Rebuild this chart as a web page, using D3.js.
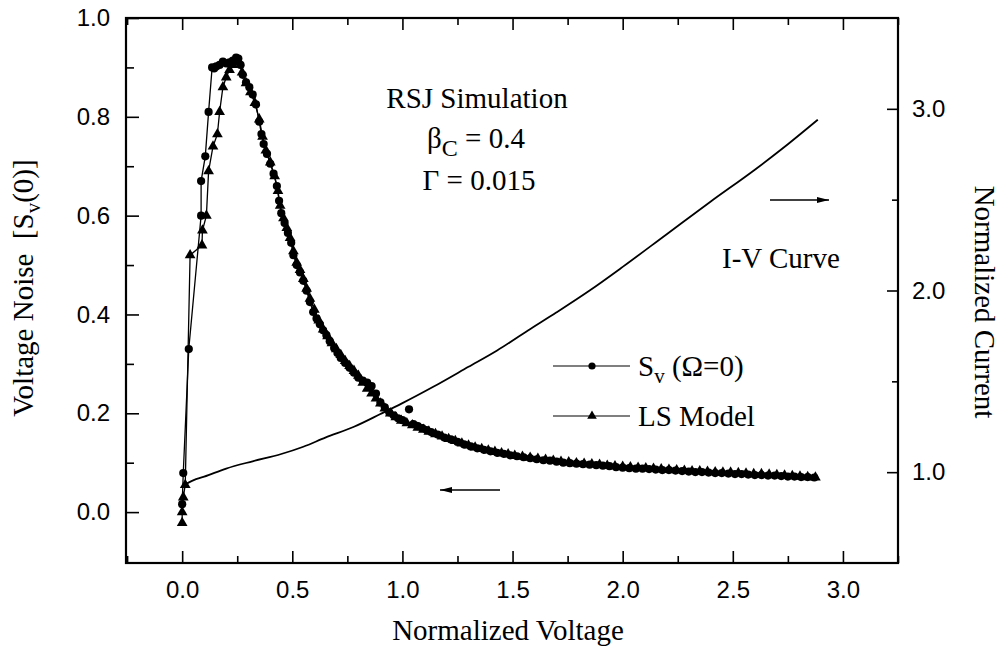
<!DOCTYPE html>
<html lang="en">
    <head>
        <meta charset="utf-8">
        <title>RSJ Voltage Noise</title>
        <script type="text/javascript" src="https://cdn.jsdelivr.net/npm/d3@7"></script>
        <style type="text/css">
            body { margin: 0; background: #fff; }
            .tick text { font-family: "Liberation Sans", Arial, sans-serif; font-size: 24px; fill: #000; }
            .tick line { stroke: #000; stroke-width: 1.6; }
            .serif { font-family: "Liberation Serif", "Times New Roman", serif; fill: #000; }
        </style>
    </head>
    <body>
        <script type="text/javascript">

    // S_v(Omega=0) series (circles)
    var svV = [0.000, 0.005, 0.030, 0.086, 0.086, 0.105, 0.120, 0.136, 0.145, 0.155,
               0.170, 0.185, 0.200, 0.215, 0.230, 0.245, 0.255, 0.265, 0.275, 0.290,
               0.305, 0.320, 0.335, 0.350, 0.360, 0.370, 0.385, 0.400, 0.415, 0.430,
               0.440, 0.450, 0.465, 0.480, 0.495, 0.505, 0.520, 0.535, 0.550, 0.565,
               0.580, 0.595, 0.610, 0.625, 0.640, 0.655, 0.670, 0.690, 0.705, 0.720,
               0.740, 0.760, 0.780, 0.800, 0.820, 0.840, 0.860, 0.880, 0.900, 0.920,
               0.940, 0.960, 0.980, 1.000, 1.050, 1.070, 1.090, 1.110, 1.130,
               1.160, 1.190, 1.220, 1.250, 1.280, 1.310, 1.340, 1.370, 1.400, 1.430,
               1.460, 1.490, 1.520, 1.550, 1.580, 1.610, 1.640, 1.670, 1.700, 1.730,
               1.760, 1.790, 1.820, 1.850, 1.880, 1.910, 1.940, 1.970, 2.000, 2.030,
               2.060, 2.090, 2.120, 2.150, 2.180, 2.210, 2.240, 2.270, 2.300, 2.330,
               2.360, 2.390, 2.420, 2.450, 2.480, 2.510, 2.540, 2.570, 2.600, 2.630,
               2.660, 2.690, 2.720, 2.750, 2.780, 2.810, 2.840, 2.870];
    var svS = [0.016, 0.079, 0.330, 0.600, 0.670, 0.720, 0.810, 0.900, 0.898, 0.902,
               0.905, 0.912, 0.908, 0.910, 0.914, 0.920, 0.918, 0.905, 0.885, 0.870,
               0.860, 0.845, 0.825, 0.790, 0.765, 0.745, 0.725, 0.705, 0.685, 0.660,
               0.630, 0.605, 0.585, 0.565, 0.545, 0.520, 0.500, 0.485, 0.468, 0.448,
               0.425, 0.405, 0.392, 0.380, 0.368, 0.358, 0.346, 0.332, 0.322, 0.312,
               0.302, 0.292, 0.282, 0.272, 0.266, 0.262, 0.255, 0.240, 0.222, 0.212,
               0.202, 0.196, 0.190, 0.186, 0.178, 0.174, 0.170, 0.166, 0.162,
               0.157, 0.151, 0.147, 0.142, 0.137, 0.133, 0.129, 0.126, 0.123, 0.120,
               0.118, 0.115, 0.113, 0.111, 0.109, 0.107, 0.105, 0.104, 0.102, 0.100,
               0.099, 0.098, 0.097, 0.096, 0.095, 0.094, 0.093, 0.091, 0.090, 0.089,
               0.088, 0.088, 0.087, 0.086, 0.085, 0.085, 0.084, 0.083, 0.082, 0.081,
               0.081, 0.080, 0.079, 0.079, 0.078, 0.077, 0.077, 0.076, 0.075, 0.075,
               0.074, 0.074, 0.073, 0.072, 0.072, 0.071, 0.071, 0.070];
    // stray S_v point above the curve
    var svOddV = [1.030];
    var svOddS = [0.208];

    // LS Model series (triangles)
    var lsV = [0.000, 0.000, 0.005, 0.014, 0.036, 0.090, 0.092, 0.110, 0.120, 0.140,
               0.160, 0.170, 0.185, 0.200, 0.215, 0.230, 0.245, 0.260, 0.272, 0.290,
               0.310, 0.330, 0.350, 0.365, 0.380, 0.400, 0.420, 0.435, 0.445, 0.460,
               0.475, 0.490, 0.505, 0.520, 0.535, 0.550, 0.565, 0.580, 0.600, 0.620,
               0.640, 0.660, 0.680, 0.700, 0.720, 0.740, 0.760, 0.780, 0.800, 0.820,
               0.840, 0.860, 0.880, 0.900, 0.920, 0.945, 0.970, 0.995, 1.020, 1.045,
               1.070, 1.095, 1.120, 1.150, 1.180, 1.210, 1.240, 1.270, 1.300, 1.330,
               1.360, 1.390, 1.420, 1.450, 1.480, 1.510, 1.545, 1.580, 1.615, 1.650,
               1.685, 1.720, 1.755, 1.790, 1.825, 1.860, 1.895, 1.930, 1.965, 2.000,
               2.035, 2.070, 2.105, 2.140, 2.175, 2.210, 2.245, 2.280, 2.315, 2.350,
               2.385, 2.420, 2.455, 2.490, 2.525, 2.560, 2.595, 2.630, 2.665, 2.700,
               2.735, 2.770, 2.805, 2.840, 2.875];
    var lsS = [-0.022, 0.000, 0.030, 0.055, 0.520, 0.540, 0.570, 0.600, 0.690, 0.740,
               0.765, 0.810, 0.860, 0.880, 0.895, 0.905, 0.912, 0.910, 0.890, 0.868,
               0.850, 0.828, 0.795, 0.760, 0.732, 0.708, 0.680, 0.650, 0.620, 0.595,
               0.575, 0.555, 0.528, 0.505, 0.490, 0.472, 0.452, 0.432, 0.410, 0.388,
               0.370, 0.356, 0.342, 0.330, 0.318, 0.306, 0.296, 0.286, 0.276, 0.262,
               0.250, 0.240, 0.230, 0.220, 0.210, 0.200, 0.192, 0.185, 0.180, 0.176,
               0.171, 0.167, 0.163, 0.158, 0.153, 0.148, 0.144, 0.139, 0.135, 0.131,
               0.128, 0.125, 0.122, 0.119, 0.117, 0.114, 0.112, 0.110, 0.108, 0.106,
               0.104, 0.102, 0.101, 0.099, 0.098, 0.097, 0.096, 0.094, 0.093, 0.092,
               0.091, 0.090, 0.089, 0.088, 0.087, 0.086, 0.085, 0.084, 0.083, 0.083,
               0.082, 0.081, 0.080, 0.080, 0.079, 0.078, 0.077, 0.077, 0.076, 0.075,
               0.074, 0.073, 0.072, 0.071, 0.070];

    // I-V curve (right axis)
    var ivV = [0.01, 0.05, 0.10, 0.20, 0.32, 0.45, 0.55, 0.65, 0.78, 0.90, 1.00, 1.14,
               1.30, 1.43, 1.57, 1.70, 1.85, 2.00, 2.20, 2.40, 2.60, 2.75, 2.886];
    var ivI = [0.93, 0.955, 0.975, 1.02, 1.06, 1.10, 1.14, 1.19, 1.25, 1.32, 1.38, 1.47,
               1.58, 1.67, 1.78, 1.88, 2.00, 2.13, 2.31, 2.49, 2.665, 2.805, 2.94];

    // tick values
    var xMajor = [0.0, 0.5, 1.0, 1.5, 2.0, 2.5, 3.0];
    var xMinor = [-0.25, 0.25, 0.75, 1.25, 1.75, 2.25, 2.75, 3.25];
    var yMajor = [0.0, 0.2, 0.4, 0.6, 0.8, 1.0];
    var yMinor = [0.1, 0.3, 0.5, 0.7, 0.9];
    var rMajor = [1.0, 2.0, 3.0];
    var rMinor = [1.5, 2.5];

    var w = 1000;
    var h = 655;
    var padL = 126, padR = 898, padT = 18, padB = 563;

    var sv = svV.map(function(v, i) { return [v, svS[i]]; });
    var svOdd = svOddV.map(function(v, i) { return [v, svOddS[i]]; });
    var ls = lsV.map(function(v, i) { return [v, lsS[i]]; });
    var iv = ivV.map(function(v, i) { return [v, ivI[i]]; });

    //Create scale functions
    var xScale = d3.scaleLinear().domain([-0.255, 3.25]).range([padL, padR]);
    var yScale = d3.scaleLinear().domain([-0.103, 1.0]).range([padB, padT]);
    var rScale = d3.scaleLinear().domain([0.5, 3.5]).range([padB, padT]);

    var fmt = d3.format(".1f");

    //Create SVG element
    var svg = d3.select("body")
                .append("svg")
                .attr("width", w)
                .attr("height", h);

    // arrowhead
    svg.append("defs").append("marker")
        .attr("id", "head")
        .attr("viewBox", "0 0 12 6")
        .attr("refX", 12).attr("refY", 3)
        .attr("markerWidth", 12).attr("markerHeight", 6)
        .attr("markerUnits", "userSpaceOnUse")
        .attr("orient", "auto")
        .append("path")
        .attr("d", "M0,0 L12,3 L0,6 Z")
        .attr("fill", "#000");

    //Axes: minor ticks first, then major ticks with labels
    svg.append("g").attr("transform", "translate(0," + padB + ")")
        .call(d3.axisBottom(xScale).tickValues(xMinor).tickSize(-7).tickFormat(""));
    svg.append("g").attr("transform", "translate(0," + padB + ")")
        .call(d3.axisBottom(xScale).tickValues(xMajor).tickSize(-12).tickPadding(18).tickFormat(fmt));

    svg.append("g").attr("transform", "translate(0," + padT + ")")
        .call(d3.axisTop(xScale).tickValues(xMinor).tickSize(-7).tickFormat(""));
    svg.append("g").attr("transform", "translate(0," + padT + ")")
        .call(d3.axisTop(xScale).tickValues(xMajor).tickSize(-12).tickFormat(""));

    svg.append("g").attr("transform", "translate(" + padL + ",0)")
        .call(d3.axisLeft(yScale).tickValues(yMinor).tickSize(-8).tickFormat(""));
    svg.append("g").attr("transform", "translate(" + padL + ",0)")
        .call(d3.axisLeft(yScale).tickValues(yMajor).tickSize(-13).tickPadding(16).tickFormat(fmt));

    svg.append("g").attr("transform", "translate(" + padR + ",0)")
        .call(d3.axisRight(rScale).tickValues(rMinor).tickSize(-6).tickFormat(""));
    svg.append("g").attr("transform", "translate(" + padR + ",0)")
        .call(d3.axisRight(rScale).tickValues(rMajor).tickSize(-11).tickPadding(14).tickFormat(fmt));

    svg.selectAll(".domain").remove();

    // frame
    svg.append("rect")
        .attr("x", padL).attr("y", padT)
        .attr("width", padR - padL).attr("height", padB - padT)
        .attr("fill", "none")
        .attr("stroke", "#000")
        .attr("stroke-width", 2.2);

    //Create lines
    var line = d3.line()
        .x(function(d) { return xScale(d[0]); })
        .y(function(d) { return yScale(d[1]); });

    svg.append("path").datum(sv)
        .attr("d", line)
        .attr("fill", "none").attr("stroke", "#000").attr("stroke-width", 1.3);
    svg.append("path").datum(ls)
        .attr("d", line)
        .attr("fill", "none").attr("stroke", "#000").attr("stroke-width", 1.3);

    var ivLine = d3.line()
        .x(function(d) { return xScale(d[0]); })
        .y(function(d) { return rScale(d[1]); })
        .curve(d3.curveMonotoneX);

    svg.append("path").datum(iv)
        .attr("d", ivLine)
        .attr("fill", "none").attr("stroke", "#000").attr("stroke-width", 1.8);

    //Create circles
    svg.selectAll("circle.sv")
        .data(sv.concat(svOdd))
        .enter()
        .append("circle")
        .attr("class", "sv")
        .attr("cx", function(d) { return xScale(d[0]); })
        .attr("cy", function(d) { return yScale(d[1]); })
        .attr("r", 4.1)
        .style("fill", "#000");

    //Create triangles
    var tri = d3.symbol().type(d3.symbolTriangle).size(50);
    svg.selectAll("path.ls")
        .data(ls)
        .enter()
        .append("path")
        .attr("class", "ls")
        .attr("d", tri)
        .attr("transform", function(d) {
            return "translate(" + xScale(d[0]) + "," + yScale(d[1]) + ")";
        })
        .style("fill", "#000");

    // annotation
    svg.append("text").attr("class", "serif")
        .attr("x", 477).attr("y", 108)
        .attr("text-anchor", "middle")
        .style("font-size", "29px")
        .text("RSJ Simulation");

    var beta = svg.append("text").attr("class", "serif")
        .attr("x", 476).attr("y", 148)
        .attr("text-anchor", "middle")
        .style("font-size", "29px");
    beta.append("tspan").text("\u03b2");
    beta.append("tspan").attr("dy", 8).style("font-size", "24px").text("C");
    beta.append("tspan").attr("dy", -8).text(" = 0.4");

    svg.append("text").attr("class", "serif")
        .attr("x", 479).attr("y", 190)
        .attr("text-anchor", "middle")
        .style("font-size", "29px")
        .text("\u0393 = 0.015");

    // I-V label and arrows
    svg.append("line")
        .attr("x1", 770).attr("y1", 200).attr("x2", 829).attr("y2", 200)
        .attr("stroke", "#000").attr("stroke-width", 1.6)
        .attr("marker-end", "url(#head)");
    svg.append("text").attr("class", "serif")
        .attr("x", 722).attr("y", 268)
        .style("font-size", "29px")
        .text("I-V Curve");

    svg.append("line")
        .attr("x1", 500).attr("y1", 490).attr("x2", 440).attr("y2", 490)
        .attr("stroke", "#000").attr("stroke-width", 1.6)
        .attr("marker-end", "url(#head)");

    // legend
    svg.append("line")
        .attr("x1", 553).attr("y1", 366).attr("x2", 630).attr("y2", 366)
        .attr("stroke", "#000").attr("stroke-width", 1.2);
    svg.append("circle")
        .attr("cx", 592).attr("cy", 366).attr("r", 3.6)
        .style("fill", "#000");
    var lg1 = svg.append("text").attr("class", "serif")
        .attr("x", 638).attr("y", 376)
        .style("font-size", "29px");
    lg1.append("tspan").text("S");
    lg1.append("tspan").attr("dy", 7).style("font-size", "21px").text("v");
    lg1.append("tspan").attr("dy", -7).text(" (\u03a9=0)");

    svg.append("line")
        .attr("x1", 553).attr("y1", 416).attr("x2", 630).attr("y2", 416)
        .attr("stroke", "#000").attr("stroke-width", 1.2);
    svg.append("path")
        .attr("d", d3.symbol().type(d3.symbolTriangle).size(40))
        .attr("transform", "translate(592,416)")
        .style("fill", "#000");
    svg.append("text").attr("class", "serif")
        .attr("x", 638).attr("y", 426)
        .style("font-size", "29px")
        .text("LS Model");

    // axis titles
    svg.append("text").attr("class", "serif")
        .attr("x", 508).attr("y", 640)
        .attr("text-anchor", "middle")
        .style("font-size", "29px")
        .text("Normalized Voltage");

    var yt = svg.append("text").attr("class", "serif")
        .attr("transform", "translate(33,288) rotate(-90)")
        .attr("text-anchor", "middle")
        .style("font-size", "29px")
        .style("white-space", "pre");
    yt.append("tspan").text("Voltage Noise  [S");
    yt.append("tspan").attr("dy", 7).style("font-size", "21px").text("v");
    yt.append("tspan").attr("dy", -7).text("(0)]");

    svg.append("text").attr("class", "serif")
        .attr("transform", "translate(975,302) rotate(90)")
        .attr("text-anchor", "middle")
        .style("font-size", "29px")
        .text("Normalized Current");

        </script>
    </body>
</html>
